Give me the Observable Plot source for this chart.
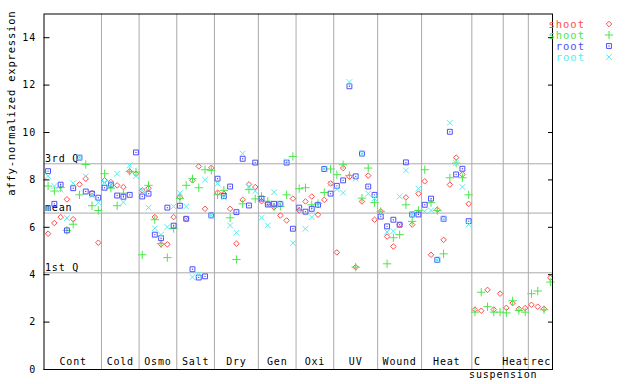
<!DOCTYPE html>
<html><head><meta charset="utf-8">
<script src="https://cdn.jsdelivr.net/npm/d3@7"></script>
<script src="https://cdn.jsdelivr.net/npm/@observablehq/plot@0.6"></script>
<style>body{margin:0;background:#fff} #chart{width:640px;height:384px}</style>
</head><body><div id="chart"></div>
<script>
// ---- data ----
const groupNames = ["Cont","Cold","Osmo","Salt","Dry","Gen","Oxi","UV","Wound","Heat","C","Heat","rec"];
const groupSizes = [9,6,6,6,7,6,6,7,7,8,5,4,4];
const subLabel = "suspension";

const shootRed = [
  5.73,6.18,6.43,7.18,6.34,7.81,8.05,7.44,5.35,
  7.98,7.91,7.77,7.70,8.36,8.26,
  7.56,7.65,6.43,5.28,5.28,6.43,
  7.27,6.36,7.98,8.57,6.78,8.51,
  7.46,7.42,6.78,5.31,7.16,7.81,7.70,
  7.10,7.00,6.85,6.50,6.29,7.21,
  6.71,7.09,7.30,6.53,7.16,7.85,
  4.94,8.50,8.13,4.32,7.09,8.18,6.32,
  6.67,5.61,5.19,6.11,7.26,6.11,7.42,
  7.94,4.84,6.74,5.47,7.80,8.94,8.23,6.99,
  2.53,2.48,3.36,2.53,3.20,
  2.60,2.80,2.56,2.59,
  2.73,2.65,2.56,3.87
];
const shootGreen = [
  7.74,7.53,7.68,5.87,6.13,7.37,8.65,6.91,6.71,
  8.26,7.65,6.91,7.44,8.36,8.33,
  4.84,7.77,6.32,5.31,4.72,5.95,
  7.22,7.77,8.05,7.67,8.43,8.40,
  7.37,7.56,6.40,4.64,6.99,7.59,7.20,
  7.30,7.10,6.85,6.88,7.37,8.99,
  7.63,7.67,6.95,7.00,7.47,8.46,
  8.22,8.64,8.19,4.32,7.23,8.50,7.04,
  6.67,4.46,5.56,5.69,6.95,6.25,6.71,
  8.43,7.04,6.71,4.88,8.09,8.71,8.09,7.37,
  2.42,3.26,2.65,2.42,2.42,
  2.39,2.90,2.49,2.42,
  3.20,3.31,2.52,3.69
];
const rootBlue = [
  8.37,6.99,7.80,5.87,7.65,8.94,7.51,7.42,7.25,
  7.67,7.80,7.34,7.29,7.37,9.16,
  7.30,7.42,5.69,5.54,6.83,6.07,
  6.91,6.36,4.23,3.88,3.93,6.50,
  8.05,7.32,7.72,6.64,8.89,6.92,8.73,
  7.21,6.96,6.99,6.99,8.73,5.94,
  6.83,6.66,6.78,6.95,8.46,7.42,
  7.75,7.98,11.95,8.15,9.11,7.72,7.37,
  6.45,6.04,6.32,6.11,8.74,6.54,6.54,
  6.95,7.21,4.63,6.36,10.03,8.23,8.47,6.26
];
const rootCyan = [
  8.16,7.74,7.59,6.39,7.86,8.96,8.15,7.34,7.04,
  7.89,7.81,8.26,7.06,8.61,8.16,
  7.56,6.83,5.96,5.69,6.01,6.88,
  7.44,6.88,3.90,4.01,8.01,6.50,
  7.84,7.26,6.08,5.77,9.11,7.72,7.53,
  6.40,6.08,7.48,6.99,8.79,5.33,
  6.71,5.94,6.43,6.92,8.46,7.84,
  7.60,7.46,12.13,8.05,9.11,7.42,7.22,
  6.58,5.80,5.84,7.30,8.40,6.54,7.63,
  6.67,6.71,4.63,6.36,10.41,8.71,7.70,6.12
];
const refValues = [8.68, 6.60, 4.08];
const refLabels = ["3rd Q", "mean", "1st Q"];
const yTicks = [0,2,4,6,8,10,12,14];
const legendLabels = ["shoot","shoot","root","root"];
const yLabel = "affy-normalized expression";

// ---- styles ----
const colors = ["#ff4d4d","#4de64d","#4d4dff","#55eeee"];
const FONT = "DejaVu Sans Mono";
const symR = [2.5, 2.8, 3.1, 2.7];

// ---- derived ----
const bounds = Array.from(d3.cumsum(groupSizes));
const separators = bounds.slice(0, -1).map(b => b - 0.5);
const centers = groupSizes.map((s, k) => (bounds[k] - s + bounds[k] - 1) / 2);
const toPts = arr => arr.map((v, i) => ({i, v}));
const red = toPts(shootRed), green = toPts(shootGreen), blue = toPts(rootBlue), cyan = toPts(rootCyan);
const labelIdx = groupNames.map((n, k) => k);

const chart = Plot.plot({
  width: 640, height: 384,
  marginLeft: 43.5, marginRight: 88, marginTop: 13.5, marginBottom: 15,
  style: {fontFamily: FONT, fontSize: "10px", letterSpacing: "0.8px", background: "#fff"},
  x: {domain: [-0.65, 80.35], axis: null},
  y: {domain: [0, 15], axis: null},
  marks: [
    Plot.ruleX(separators, {stroke: "#aaaaaa"}),
    Plot.ruleY(refValues, {stroke: "#aaaaaa"}),
    Plot.text(refLabels, {y: (d, i) => refValues[i], frameAnchor: "left", textAnchor: "start", lineAnchor: "bottom", dx: 1, dy: -2, fill: "black"}),
    Plot.text(labelIdx.filter(k => k !== 10), {x: k => centers[k], text: k => groupNames[k], frameAnchor: "bottom", dy: -5, fill: "black"}),
    Plot.text([10], {x: k => centers[k], text: k => groupNames[k], frameAnchor: "bottom", dy: -5, dx: -10, fill: "black"}),
    Plot.text([subLabel], {x: () => separators[10], frameAnchor: "bottom", dy: 8, fill: "black"}),
    Plot.dot(red, {x: "i", y: "v", symbol: "diamond2", r: symR[0], stroke: colors[0], strokeWidth: 1}),
    Plot.dot(green, {x: "i", y: "v", symbol: "plus", r: symR[1], stroke: colors[1], strokeWidth: 1}),
    Plot.dot(blue, {x: "i", y: "v", symbol: "square2", r: symR[2], stroke: colors[2], strokeWidth: 1}),
    Plot.dot(blue, {x: "i", y: "v", r: 0.7, fill: colors[2], stroke: "none"}),
    Plot.dot(cyan, {x: "i", y: "v", symbol: "times", r: symR[3], stroke: colors[3], strokeWidth: 1}),
    Plot.frame({stroke: "black"}),
    Plot.axisY({anchor: "left", ticks: yTicks, tickSize: -6, tickPadding: 14, label: null, fontSize: 10}),
    Plot.axisY({anchor: "right", ticks: yTicks, tickSize: -5, tickFormat: () => "", label: null}),
    Plot.text([yLabel], {frameAnchor: "left", rotate: -90, dx: -32, dy: 4, fill: "black", fontSize: 10.5, letterSpacing: "1.2px"})
  ]
});
document.getElementById("chart").appendChild(chart);

// legend (right side)
const svg = d3.select(chart);
const lg = svg.append("g").attr("font-family", FONT).attr("font-size", 10.5).attr("letter-spacing", "1px");
const legendSymbols = [d3.symbolDiamond2, d3.symbolPlus, d3.symbolSquare2, d3.symbolTimes];
legendLabels.forEach((t, k) => {
  const y = 24 + k * 11;
  lg.append("text").attr("x", 585).attr("y", y).attr("dy", "0.35em").attr("text-anchor", "end")
    .attr("fill", colors[k]).text(t);
  lg.append("path").attr("transform", `translate(609,${y})`)
    .attr("d", d3.symbol(legendSymbols[k], Math.PI * symR[k] * symR[k])())
    .attr("fill", "none").attr("stroke", colors[k]);
  if (k === 2) lg.append("circle").attr("cx", 609).attr("cy", y).attr("r", 0.7).attr("fill", colors[k]);
});
</script>
</body></html>
